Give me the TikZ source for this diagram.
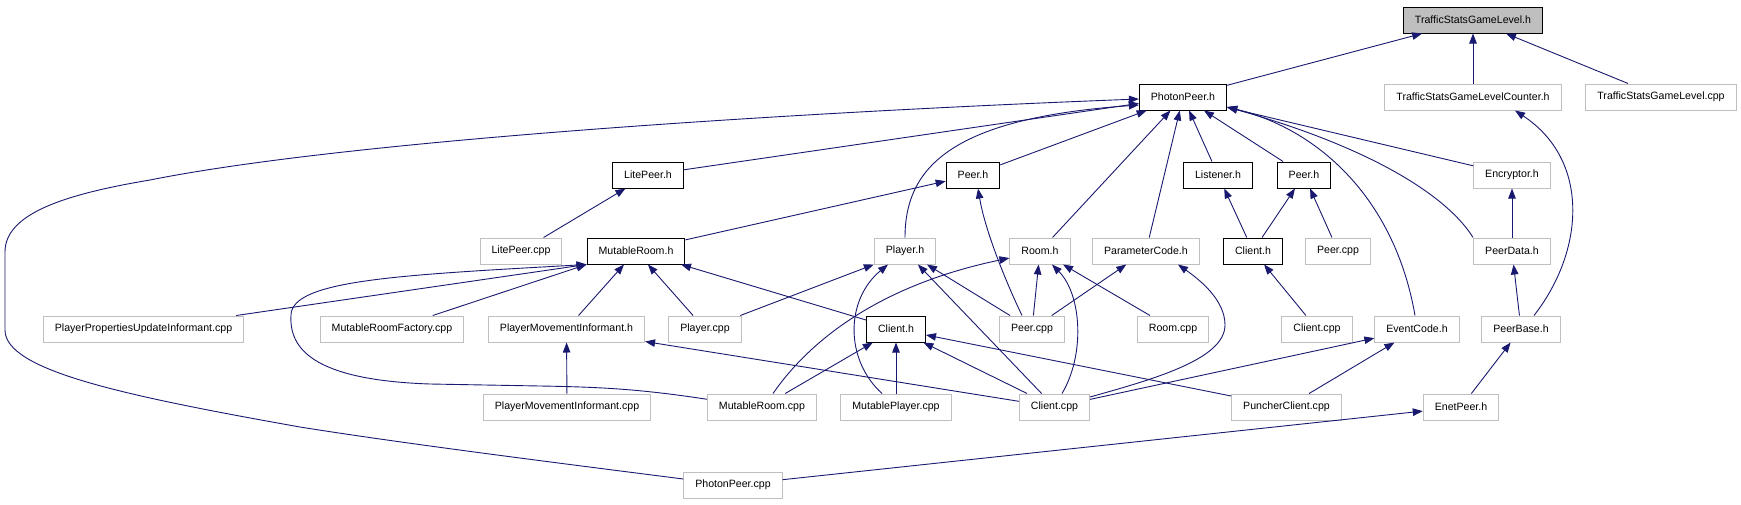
\documentclass[tikz,border=0pt]{standalone}
\usepackage{fontspec}
\setmainfont{Liberation Sans}
\usetikzlibrary{arrows.meta,calc}
\definecolor{edgeblue}{HTML}{191970}
\definecolor{boxgray}{HTML}{BFBFBF}
\begin{document}
\begin{tikzpicture}[x=1pt,y=-1pt,
  box/.style={rectangle, minimum height=26pt, inner xsep=11.5pt, inner ysep=0pt,
              font=\fontsize{10.6}{12}\selectfont, line width=1pt, fill=white},
  doc/.style={box, draw=black},
  ext/.style={box, draw=boxgray},
  root/.style={box, draw=black, fill=boxgray},
  edge/.style={draw=edgeblue, line width=0.9pt, -{Triangle[length=10pt,width=7.5pt]}}]
\fill[white] (0,0) rectangle (1741,504);
\useasboundingbox (0,0) rectangle (1741,504);

% row 1
\node[root] (tsgl) at (1473,20) {TrafficStatsGameLevel.h};
% row 2
\node[doc] (pp) at (1183,97) {PhotonPeer.h};
\node[ext] (tsglc) at (1473,97) {TrafficStatsGameLevelCounter.h};
\node[ext] (tsglcpp) at (1661,97) {TrafficStatsGameLevel.cpp};
% row 3
\node[doc] (liteh) at (648,175) {LitePeer.h};
\node[doc] (peerha) at (973,175) {Peer.h};
\node[doc] (listener) at (1218,175) {Listener.h};
\node[doc] (peerhb) at (1304,175) {Peer.h};
\node[ext] (encryptor) at (1512,175) {Encryptor.h};
% row 4
\node[ext] (litecpp) at (521,251) {LitePeer.cpp};
\node[doc] (mroomh) at (636,251) {MutableRoom.h};
\node[ext] (playerh) at (905,251) {Player.h};
\node[ext] (roomh) at (1040,251) {Room.h};
\node[ext] (paramh) at (1146,251) {ParameterCode.h};
\node[doc] (clienthb) at (1253,251) {Client.h};
\node[ext] (peercppb) at (1338,251) {Peer.cpp};
\node[ext] (peerdata) at (1512,251) {PeerData.h};
% row 5
\node[ext] (ppui) at (143.5,329) {PlayerPropertiesUpdateInformant.cpp};
\node[ext] (mrf) at (392,329) {MutableRoomFactory.cpp};
\node[ext] (pmih) at (566.5,329) {PlayerMovementInformant.h};
\node[ext] (playercpp) at (705,329) {Player.cpp};
\node[doc] (clientha) at (896,329) {Client.h};
\node[ext] (peercppa) at (1032,329) {Peer.cpp};
\node[ext] (roomcpp) at (1173,329) {Room.cpp};
\node[ext] (clientcppb) at (1317,329) {Client.cpp};
\node[ext] (eventh) at (1417,329) {EventCode.h};
\node[ext] (peerbase) at (1521,329) {PeerBase.h};
% row 6
\node[ext] (pmicpp) at (567,407) {PlayerMovementInformant.cpp};
\node[ext] (mroomcpp) at (762,407) {MutableRoom.cpp};
\node[ext] (mplayercpp) at (896,407) {MutablePlayer.cpp};
\node[ext] (clientcppa) at (1054.5,407) {Client.cpp};
\node[ext] (puncher) at (1286.5,407) {PuncherClient.cpp};
\node[ext] (enet) at (1461,407) {EnetPeer.h};
% row 7
\node[ext] (ppcpp) at (733,485) {PhotonPeer.cpp};

% edges
\draw[edge] (pp) -- (tsgl);
\draw[edge] (tsglc) -- (tsgl);
\draw[edge] (tsglcpp) -- (tsgl);
\draw[edge] (liteh) -- (pp);
\draw[edge] (peerha) -- (pp);
\draw[edge] (listener) -- (pp);
\draw[edge] (peerhb) -- (pp);
\draw[edge] (encryptor) -- (pp);
\draw[edge] ([xshift=-39pt]peerdata.north) .. controls (1450,200) and (1380,150) .. ([yshift=-10pt]pp.east);
\draw[edge] ([xshift=-2pt]eventh.north) .. controls (1395,200) and (1320,130) .. ([yshift=-10pt]pp.east);
\draw[edge] (playerh.north) .. controls (905,165) and (955,118) .. ([yshift=-8pt]pp.west);
\draw[edge] (roomh) -- (pp);
\draw[edge] (paramh) -- (pp);
\draw[edge] ([yshift=6pt]ppcpp.west) .. controls (550,462) and (400,443) .. (300,427)
  .. controls (120,395) and (5,370) .. (5,330) -- (5,252)
  .. controls (5,215) and (60,195) .. (150,180) .. controls (350,140) and (800,112) .. ([yshift=-2pt]pp.west);
\draw[edge] (litecpp) -- (liteh);
\draw[edge] (mroomh) -- (peerha);
\draw[edge] ([xshift=-10pt]peercppa.north) .. controls (1005,280) and (985,230) .. ([xshift=5pt]peerha.south);
\draw[edge] (clienthb) -- (listener);
\draw[edge] (clienthb) -- (peerhb);
\draw[edge] (peercppb) -- (peerhb);
\draw[edge] (peerdata) -- (encryptor);
\draw[edge] (peerbase) -- (peerdata);
\draw[edge] ([xshift=13pt]peerbase.north) .. controls (1585,250) and (1590,160) .. ([xshift=42pt]tsglc.south);
\draw[edge] (enet) -- (peerbase);
\draw[edge] (ppcpp) -- (enet);
\draw[edge] (ppui) -- (mroomh.south west);
\draw[edge] (mrf) -- (mroomh.south west);
\draw[edge] (pmih) -- (mroomh);
\draw[edge] (playercpp) -- (mroomh);
\draw[edge] (clientha) -- (mroomh);
\draw[edge] (mroomcpp.172) .. controls (640,389) and (600,387) .. (540,386) -- (430,384)
  .. controls (312,380) and (289,348) .. (291,315) .. controls (292,280) and (400,275) .. (mroomh.south west);
\draw[edge] (pmicpp) -- (pmih);
\draw[edge] (clientcppa) -- (pmih);
\draw[edge] (playercpp) -- (playerh.south west);
\draw[edge] ([xshift=-14pt]mplayercpp.north) .. controls (845,360) and (845,300) .. ([xshift=-17pt]playerh.south);
\draw[edge] (clientcppa) -- (playerh);
\draw[edge] (peercppa) -- (playerh);
\draw[edge] ([xshift=11pt]mroomcpp.north) .. controls (810,340) and (880,285) .. ([yshift=-7pt]roomh.west);
\draw[edge] (peercppa) -- (roomh);
\draw[edge] ([xshift=7.5pt]clientcppa.north) .. controls (1085,355) and (1082,295) .. ([xshift=12pt]roomh.south);
\draw[edge] (roomcpp) -- (roomh);
\draw[edge] (peercppa) -- (paramh);
\draw[edge] ([yshift=10pt]clientcppa.east) .. controls (1150,380) and (1225,360) .. (1225,325)
  .. controls (1225,300) and (1200,280) .. ([xshift=32pt]paramh.south);
\draw[edge] (mroomcpp) -- (clientha);
\draw[edge] (mplayercpp) -- (clientha);
\draw[edge] (clientcppa) -- (clientha);
\draw[edge] (puncher) -- (clientha);
\draw[edge] (clientcppb) -- (clienthb);
\draw[edge] (clientcppa) -- (eventh);
\draw[edge] (puncher) -- (eventh);
\end{tikzpicture}
\end{document}
